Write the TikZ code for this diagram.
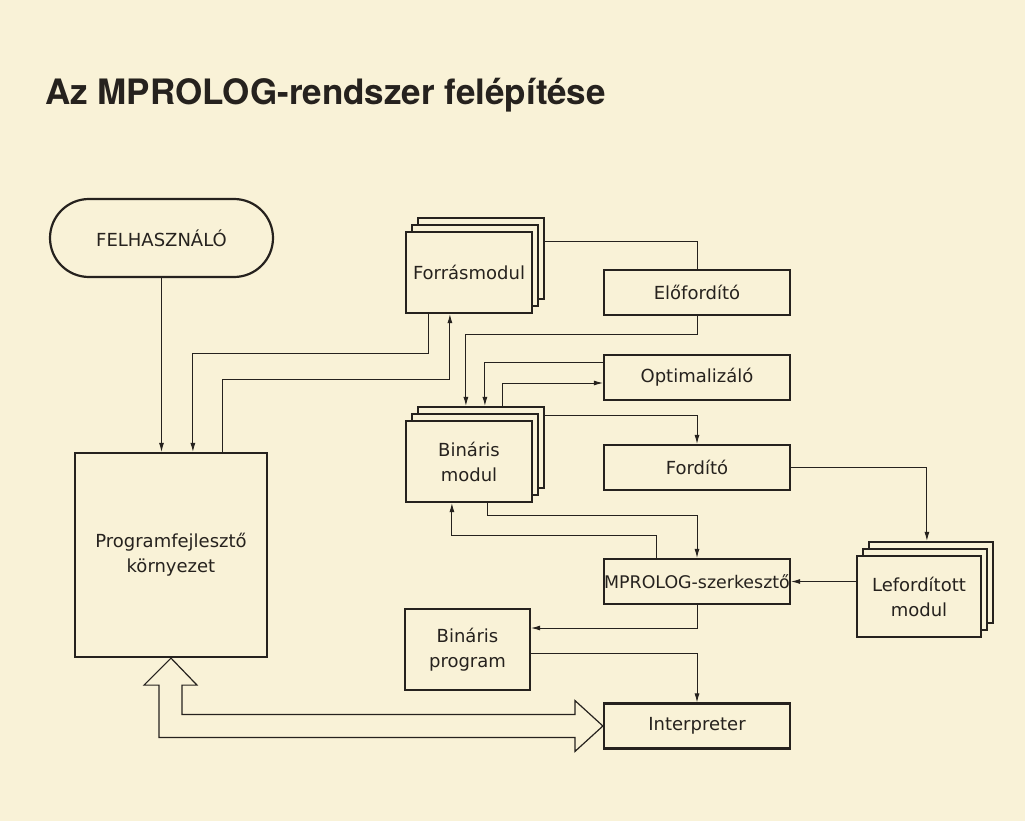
\documentclass[tikz,border=0pt]{standalone}
\usepackage{fontspec}
\setmainfont{DejaVu Sans}
\newfontfamily\titlefont{TeX Gyre Heros}
\usetikzlibrary{arrows.meta,shadows}
\definecolor{paper}{RGB}{249,242,215}
\definecolor{ink}{RGB}{38,34,30}
\newcommand\lbl{\fontsize{18}{25}\selectfont}

\begin{document}
\begin{tikzpicture}[
      x=1pt, y=-1pt,
      every node/.style={font=\lbl, text=ink, inner sep=0pt},
      box/.style={draw=ink, line width=2.2pt, fill=paper,
        minimum width=186pt, minimum height=45pt},
      stack/.style={box, align=center, minimum width=126pt, minimum height=81pt,
        double copy shadow={shadow xshift=6pt, shadow yshift=7pt}},
      link/.style={draw=ink, line width=0.9pt},
      arr/.style={link, -{Latex[length=9pt, width=5pt]}},
      hollow/.style={draw=ink, line width=1.2pt, line join=miter}]
    \useasboundingbox[fill=paper] (0,0) rectangle (1025,821);

    \node[anchor=base west, font=\titlefont\bfseries\fontsize{35}{40}\selectfont]
      (title) at (45,105) {Az MPROLOG-rendszer felépítése};

    \node[box, rounded corners=39pt, minimum width=223pt, minimum height=78pt]
      (user) at (161.5,238) {FELHASZNÁLÓ};
    \node[box, align=center, minimum width=192pt, minimum height=204pt]
      (prog) at (171,555) {Programfejlesztő\\környezet};

    \node[stack] (forras) at (469,272.5) {Forrásmodul};
    \node[stack] (bin)    at (469,461.5) {Bináris\\modul};
    \node[stack, minimum width=124pt] (lef) at (919,596.5) {Lefordított\\modul};
    \node[box, align=center, minimum width=125pt, minimum height=81pt]
      (binprog) at (467.5,649.5) {Bináris\\program};

    \node[box] (elo)    at (697,292.5) {Előfordító};
    \node[box] (opt)    at (697,377.5) {Optimalizáló};
    \node[box] (ford)   at (697,467.5) {Fordító};
    \node[box, font=\fontsize{17.4}{25}\selectfont]
               (szerk)  at (697,581.5) {MPROLOG-szerkesztő};
    \node[box] (interp) at (697,726)   {Interpreter};

    % felhasznalo es programfejleszto kornyezet
    \draw[arr] (user.south) -- (user.south |- prog.north);
    \draw[arr] ([xshift=24pt]forras.south west) -- ++(0,39)
      -| ([xshift=119pt]prog.north west);
    \draw[arr] ([xshift=149pt]prog.north west) -- ++(0,-72)
      -| ([xshift=45pt]forras.south west);

    % forditas
    \draw[link] ([xshift=12pt, yshift=-11pt]forras.north east) -| (elo.north);
    \draw[arr] (elo.south) -- ++(0,18) -| ([xshift=61pt, yshift=14pt]bin.north west);
    \draw[arr] ([yshift=15.5pt]opt.west) -| ([xshift=80pt, yshift=14pt]bin.north west);
    \draw[arr] ([xshift=98pt, yshift=14pt]bin.north west) |- ([yshift=-5.5pt]opt.west);
    \draw[arr] ([xshift=12pt, yshift=4pt]bin.north east) -| (ford.north);
    \draw[arr] (ford.east) -| ([xshift=71pt, yshift=14pt]lef.north west);

    % szerkesztes
    \draw[arr] (lef.west |- szerk.east) -- (szerk.east);
    \draw[arr] ([xshift=83pt]bin.south west) -- ++(0,12) -| (szerk.north);
    \draw[arr] ([xshift=-41pt]szerk.north) -- ++(0,-22) -| ([xshift=47pt]bin.south west);
    \draw[arr] (szerk.south) |- ([yshift=21.5pt]binprog.east);
    \draw[arr] ([yshift=-3.5pt]binprog.east) -| (interp.north);

    % ketiranyu ures nyil
    \draw[hollow] (prog.south) -- ++(26,27) -- ++(-15,0)
      |- ([xshift=-28pt, yshift=11.5pt]interp.west) -- ++(0,-14)
      -- (interp.west) -- ++(-28,25.5) -- ++(0,-14)
      -| ([xshift=-12pt, yshift=-27pt]prog.south) -- ++(-15,0) -- cycle;

  \end{tikzpicture}
\end{document}
